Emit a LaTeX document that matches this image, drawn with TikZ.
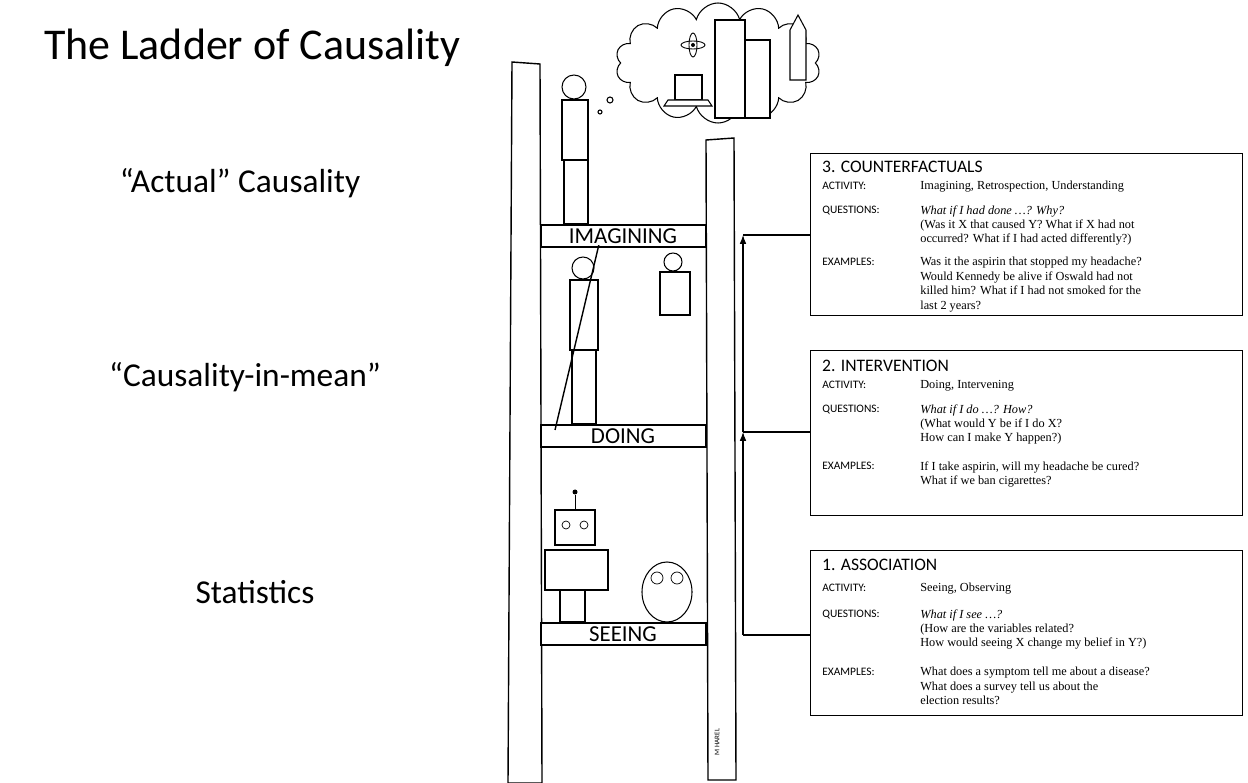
\documentclass[tikz,border=0pt]{standalone}
\usepackage{fontspec}
\setmainfont{Liberation Serif}
\setsansfont{Carlito}
\usetikzlibrary{shapes.symbols,arrows.meta}

\begin{document}
\begin{tikzpicture}[
    x=0.02cm, y=-0.02cm,
    rail/.style={draw=black, fill=white, line width=0.8pt},
    rung/.style={draw=black, fill=white, line width=0.8pt},
    runglabel/.style={font=\sffamily\fontsize{13}{13}\selectfont, fill=white, inner sep=1pt},
    levelbox/.style={draw=black, line width=0.6pt, minimum width=432*0.02cm, anchor=north west},
    head/.style={font=\sffamily\fontsize{10}{10}\selectfont, anchor=west},
    tag/.style={font=\sffamily\fontsize{6.5}{7}\selectfont, anchor=base west, inner sep=0pt},
    body/.style={font=\fontsize{7}{8.2}\selectfont, anchor=north west, align=left, inner sep=0pt},
    side/.style={font=\sffamily\fontsize{19}{19}\selectfont},
    link/.style={line width=0.6pt},
    figure/.style={draw=black, fill=white, line width=0.6pt}
]
    \useasboundingbox (0,0) rectangle (1248,783);

    % Titles on the left
    \node[font=\sffamily\fontsize{25}{25}\selectfont, anchor=west] (title) at (38,48) {The Ladder of Causality};
    \node[side] (actual) at (240,183) {“Actual” Causality};
    \node[side] (mean) at (245,377) {“Causality-in-mean”};
    \node[side] (stats) at (255,592) {Statistics};

    % Ladder
    \draw[rail] (512,62) -- (540,64) -- (542,783) -- (508,783) -- cycle;
    \draw[rail] (706,140) -- (734,138) -- (736,780) -- (708,780) -- cycle;
    \foreach \y in {236, 436, 634}
        \draw[rung] (541,\y-11) rectangle (706,\y+11);
    \node[font=\sffamily\fontsize{4}{4}\selectfont, rotate=90] (sign) at (717,742) {M HAREL};

    % Thought cloud
    \node[cloud, cloud puffs=14, draw, line width=0.6pt, minimum width=205*0.02cm,
        minimum height=120*0.02cm, fill=white] (dream) at (718,63) {};
    \draw[figure] (675,75) rectangle (702,100);
    \draw[figure] (668,100) -- (708,100) -- (712,106) -- (664,106) -- cycle;
    \draw[figure] (715,20) rectangle (745,118);
    \draw[figure] (745,40) rectangle (770,118);
    \draw[figure] (790,30) -- (798,15) -- (806,30) -- (806,80) -- (790,80) -- cycle;
    \draw[line width=0.5pt] (693,45) ellipse (12 and 4) (693,45) ellipse (4 and 12);
    \fill (693,45) circle (2);
    \draw[figure] (610,100) circle (3) (600,112) circle (2);

    % Figures on the ladder
    % thinker on top rung
    \draw[figure] (574,87) circle (12);
    \draw[figure] (562,100) rectangle (588,160);
    \draw[figure] (564,160) rectangle (588,224);
    % caveman
    \draw[figure] (583,268) circle (11);
    \draw[figure] (570,280) rectangle (598,350);
    \draw[figure] (572,350) rectangle (596,424);
    \draw[line width=0.8pt] (555,430) -- (600,240);
    % baby
    \draw[figure] (673,262) circle (9);
    \draw[figure] (660,272) rectangle (690,315);
    % robot
    \draw[figure] (555,510) rectangle (595,545);
    \draw[figure] (545,550) rectangle (608,590);
    \draw[figure] (560,590) rectangle (585,622);
    \draw (575,510) -- (575,495);
    \fill (575,492) circle (2.5);
    \draw (566,525) circle (4) (584,525) circle (4);
    % owl
    \draw[figure] (667,592) ellipse (25 and 30);
    \draw (657,578) circle (6) (677,578) circle (6);

    % Rung words
    \node[runglabel] (imagining) at (623,236) {IMAGINING};
    \node[runglabel] (doing) at (623,436) {DOING};
    \node[runglabel] (seeing) at (623,634) {SEEING};

    % Arrows between levels
    \coordinate (a1) at (743,635);
    \coordinate (a2) at (743,432);
    \coordinate (a3) at (743,235);
    \draw[link, -{Latex[length=5pt]}] (a1) -- (a2);
    \draw[link, -{Latex[length=5pt]}] (a2) -- (a3);

    % Level boxes
    \node[levelbox, minimum height=162*0.02cm] (box3) at (810,153) {};
    \node[levelbox, minimum height=165*0.02cm] (box2) at (810,350) {};
    \node[levelbox, minimum height=165*0.02cm] (box1) at (810,550) {};
    \draw[link] (a3) -- (a3 -| box3.west);
    \draw[link] (a2) -- (a2 -| box2.west);
    \draw[link] (a1) -- (a1 -| box1.west);

    % 3. Counterfactuals
    \node[head] (h3) at (816,167) {3. COUNTERFACTUALS};
    \node[tag] (t3a) at (822,190) {ACTIVITY:};
    \node[body] (b3a) at (920,181) {Imagining, Retrospection, Understanding};
    \node[tag] (t3q) at (822,214) {QUESTIONS:};
    \node[body] (b3q) at (920,205) {\textit{What if I had done \ldots? Why?}\\(Was it X that caused Y? What if X had not\\occurred? What if I had acted differently?)};
    \node[tag] (t3e) at (822,266) {EXAMPLES:};
    \node[body] (b3e) at (920,257) {Was it the aspirin that stopped my headache?\\Would Kennedy be alive if Oswald had not\\killed him? What if I had not smoked for the\\last 2 years?};

    % 2. Intervention
    \node[head] (h2) at (816,366) {2. INTERVENTION};
    \node[tag] (t2a) at (822,389) {ACTIVITY:};
    \node[body] (b2a) at (920,380) {Doing, Intervening};
    \node[tag] (t2q) at (822,413) {QUESTIONS:};
    \node[body] (b2q) at (920,404) {\textit{What if I do \ldots? How?}\\(What would Y be if I do X?\\How can I make Y happen?)};
    \node[tag] (t2e) at (822,470) {EXAMPLES:};
    \node[body] (b2e) at (920,461) {If I take aspirin, will my headache be cured?\\What if we ban cigarettes?};

    % 1. Association
    \node[head] (h1) at (816,565) {1. ASSOCIATION};
    \node[tag] (t1a) at (822,592) {ACTIVITY:};
    \node[body] (b1a) at (920,583) {Seeing, Observing};
    \node[tag] (t1q) at (822,618) {QUESTIONS:};
    \node[body] (b1q) at (920,609) {\textit{What if I see \ldots?}\\(How are the variables related?\\How would seeing X change my belief in Y?)};
    \node[tag] (t1e) at (822,676) {EXAMPLES:};
    \node[body] (b1e) at (920,667) {What does a symptom tell me about a disease?\\What does a survey tell us about the\\election results?};
\end{tikzpicture}
\end{document}
